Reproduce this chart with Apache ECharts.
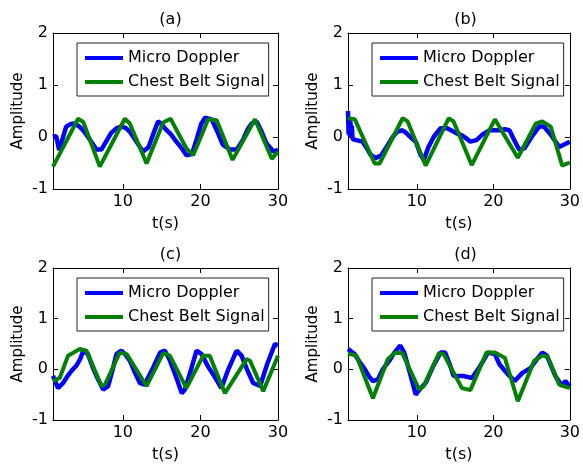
<!DOCTYPE html>
<html>
<head>
<meta charset="utf-8">
<script src="https://cdn.jsdelivr.net/npm/echarts@6/dist/echarts.min.js"></script>
<style>
  html, body { margin: 0; padding: 0; background: #fff; }
  #main { width: 583px; height: 471px; }
</style>
</head>
<body>
<div id="main"></div>
<script>
// values, [t, amplitude]
var aMicro = [[1,0],[1.4,0.02],[1.8,-0.25],[2.2,-0.05],[2.7,0.2],[3.3,0.25],[3.8,0.26],[4.4,0.2],[4.9,0.13],[5.6,-0.02],[6.2,-0.15],[6.6,-0.24],[7.25,-0.24],[7.8,-0.1],[8.5,0.08],[9.2,0.17],[9.8,0.2],[10.4,0.17],[10.9,0.1],[11.6,-0.05],[12.1,-0.17],[12.6,-0.28],[13.3,-0.2],[13.9,0.05],[14.55,0.3],[15.0,0.25],[15.4,0.17],[16.2,0.05],[16.9,-0.09],[17.6,-0.22],[18.2,-0.35],[18.9,-0.33],[19.5,-0.05],[20.1,0.25],[20.6,0.37],[21.45,0.34],[22.2,0.1],[22.9,-0.15],[23.8,-0.24],[24.7,-0.24],[25.5,-0.05],[26.1,0.15],[26.6,0.26],[27.25,0.3],[27.9,0.1],[28.5,-0.12],[29.4,-0.28],[30,-0.25]];
var aChest = [[1,-0.57],[4.23,0.35],[4.9,0.29],[7.03,-0.57],[10.26,0.35],[10.9,0.26],[13.06,-0.51],[15.2,0.28],[16.15,0.35],[18.2,-0.22],[19.07,-0.35],[21.0,0.34],[22.1,0.32],[24.15,-0.44],[27.03,0.34],[29.2,-0.42],[30,-0.28]];

var bMicro = [[1,0.5],[1.08,0.05],[1.16,0.38],[1.24,0.02],[1.32,0.3],[1.4,0],[1.5,0.22],[1.6,-0.04],[2.1,-0.06],[2.9,-0.09],[3.4,-0.2],[3.9,-0.33],[4.6,-0.41],[5.35,-0.35],[6.0,-0.2],[6.85,0],[7.4,0.1],[8.1,0.13],[8.6,0.08],[9.3,-0.02],[9.9,-0.1],[10.5,-0.35],[10.9,-0.44],[11.5,-0.2],[12.2,0],[13.1,0.17],[13.95,0.17],[14.6,0.12],[15.2,0.07],[15.9,0.03],[16.5,-0.03],[17.0,-0.09],[17.8,-0.06],[18.6,0.05],[19.5,0.13],[20.8,0.13],[21.5,0.15],[22.1,0.13],[22.8,-0.08],[23.4,-0.25],[24.05,-0.22],[25.0,0],[26.0,0.2],[26.6,0.2],[27.5,0.05],[28.6,-0.19],[29.2,-0.15],[30,-0.09]];
var bChest = [[1,0.36],[1.9,0.34],[4.48,-0.51],[5.13,-0.51],[8.14,0.36],[8.8,0.3],[11.15,-0.55],[14.16,0.36],[14.8,0.3],[17.17,-0.54],[20.2,0.34],[23.2,-0.4],[25.56,0.26],[26.4,0.3],[27.5,0.2],[29.0,-0.55],[30,-0.49]];

var cMicro = [[1,-0.13],[1.65,-0.37],[2.3,-0.27],[2.8,-0.15],[3.38,-0.03],[4.0,0.07],[4.5,0.2],[4.9,0.37],[5.5,0.3],[6.1,0.05],[6.6,-0.13],[7.46,-0.4],[8.1,-0.33],[8.7,0],[9.18,0.3],[9.8,0.37],[10.3,0.3],[10.9,0.17],[11.6,-0.08],[12.2,-0.27],[12.8,-0.3],[13.8,0],[14.8,0.33],[15.4,0.37],[16.0,0.2],[16.5,0],[17.1,-0.25],[17.6,-0.47],[18.0,-0.4],[18.8,0],[19.5,0.37],[20.15,0.3],[21.0,0.05],[21.65,-0.1],[22.7,-0.37],[23.6,0],[24.67,0.37],[25.3,0.27],[26.0,0],[26.8,-0.27],[27.7,-0.33],[28.6,0.1],[29.6,0.5],[30,0.47]];
var cChest = [[1,-0.23],[1.87,-0.17],[2.94,0.27],[4.45,0.4],[5.3,0.37],[7.25,-0.33],[7.7,-0.3],[9.6,0.33],[10.5,0.3],[13.06,-0.33],[15.2,0.32],[16.06,0.27],[18.2,-0.37],[20.36,0.27],[21.2,0.27],[23.16,-0.47],[25.96,0.2],[26.4,0.17],[28.1,-0.43],[30,0.27]];

var dMicro = [[1,0.4],[1.87,0.3],[2.5,0.15],[3.2,0],[3.8,-0.15],[4.26,-0.23],[4.9,-0.2],[5.55,0],[6.4,0.17],[7.06,0.33],[7.84,0.47],[8.35,0.33],[9.2,-0.13],[9.86,-0.5],[10.5,-0.37],[11.15,-0.27],[12.1,0.05],[13.1,0.33],[13.7,0.33],[14.3,0.1],[14.8,-0.13],[15.4,-0.13],[16.06,-0.13],[17.2,-0.17],[18.0,0],[18.7,0.17],[19.3,0.33],[20.2,0.3],[20.8,0.1],[21.9,-0.1],[22.8,-0.23],[23.8,-0.07],[24.9,0.03],[25.7,0.2],[26.4,0.33],[27.0,0.27],[28.1,-0.13],[29.0,-0.33],[29.4,-0.23],[30,-0.33]];
var dChest = [[1,0.31],[2.1,0.27],[4.26,-0.57],[6.2,0.2],[7.06,0.32],[8.1,0.32],[10.3,-0.4],[10.9,-0.33],[12.9,0.32],[13.5,0.3],[15.9,-0.37],[17.0,-0.41],[19.1,0.33],[20.2,0.33],[21.5,0.23],[23.2,-0.63],[25.35,0.17],[26.4,0.27],[27.1,0.25],[28.6,-0.3],[30,-0.37]];

var panelTitles = ['(a)', '(b)', '(c)', '(d)'];
var xTicks = [10, 20, 30];
var seriesNames = ['Micro Doppler', 'Chest Belt Signal'];
var panelData = [[aMicro, aChest], [bMicro, bChest], [cMicro, cChest], [dMicro, dChest]];

// grid boxes
var boxes = [
    { left: 53, top: 33, width: 225, height: 156 },
    { left: 348, top: 33, width: 225, height: 156 },
    { left: 53, top: 268, width: 225, height: 152 },
    { left: 348, top: 268, width: 225, height: 152 }
];

var font = 'DejaVu Sans';
var grids = [], xAxes = [], yAxes = [], series = [], titles = [], legends = [];

boxes.forEach(function (b, i) {
    grids.push({ left: b.left, top: b.top, width: b.width, height: b.height });

    titles.push({
        text: panelTitles[i],
        left: b.left + b.width / 2,
        top: b.top - 26,
        textAlign: 'center',
        textStyle: { fontFamily: font, fontSize: 16, fontWeight: 'normal', color: '#000' }
    });

    // box outline, never on zero
    var line = { show: true, onZero: false, lineStyle: { color: '#000', width: 1 } };
    var tick = { show: true, inside: true, length: 5, customValues: xTicks, lineStyle: { color: '#000' } };
    var yTick = { show: true, inside: true, length: 5, lineStyle: { color: '#000' } };

    // bottom x axis with labels
    xAxes.push({
        gridIndex: i, type: 'value', min: 1, max: 30, position: 'bottom',
        axisLine: line, axisTick: tick, splitLine: { show: false },
        axisLabel: { customValues: xTicks, margin: 5, color: '#000', fontFamily: font, fontSize: 16 },
        name: 't(s)', nameLocation: 'middle', nameGap: 27,
        nameTextStyle: { color: '#000', fontFamily: font, fontSize: 16 }
    });
    // top x axis, ticks only
    xAxes.push({
        gridIndex: i, type: 'value', min: 1, max: 30, position: 'top',
        axisLine: line, axisTick: tick, splitLine: { show: false },
        axisLabel: { show: false }
    });
    // left y axis
    yAxes.push({
        gridIndex: i, type: 'value', min: -1, max: 2, interval: 1, position: 'left',
        axisLine: line, axisTick: yTick, splitLine: { show: false },
        axisLabel: { margin: 5, color: '#000', fontFamily: font, fontSize: 16 },
        name: 'Amplitude', nameLocation: 'middle', nameGap: 27,
        nameTextStyle: { color: '#000', fontFamily: font, fontSize: 15 }
    });
    // right y axis, ticks only
    yAxes.push({
        gridIndex: i, type: 'value', min: -1, max: 2, interval: 1, position: 'right',
        axisLine: line, axisTick: yTick, splitLine: { show: false },
        axisLabel: { show: false }
    });

    series.push({
        name: seriesNames[0], type: 'line', xAxisIndex: i * 2, yAxisIndex: i * 2,
        data: panelData[i][0], showSymbol: false, symbol: 'none',
        lineStyle: { color: '#0000ff', width: 4.5 }, itemStyle: { color: '#0000ff' }
    });
    series.push({
        name: seriesNames[1], type: 'line', xAxisIndex: i * 2, yAxisIndex: i * 2,
        data: panelData[i][1], showSymbol: false, symbol: 'none',
        lineStyle: { color: '#008000', width: 4 }, itemStyle: { color: '#008000' }
    });

    legends.push({
        data: seriesNames,
        orient: 'vertical',
        left: b.left + 24,
        top: b.top + 10,
        padding: [7, 4, 6, 8],
        itemGap: 8,
        itemWidth: 38,
        itemHeight: 4,
        icon: 'rect',
        borderColor: '#222',
        borderWidth: 1,
        backgroundColor: '#fff',
        textStyle: { fontFamily: font, fontSize: 16, color: '#000', lineHeight: 16 }
    });
});

var myChart = echarts.init(document.getElementById('main'));
myChart.setOption({
    animation: false,
    backgroundColor: '#fff',
    title: titles,
    legend: legends,
    grid: grids,
    xAxis: xAxes,
    yAxis: yAxes,
    series: series
});
</script>
</body>
</html>
